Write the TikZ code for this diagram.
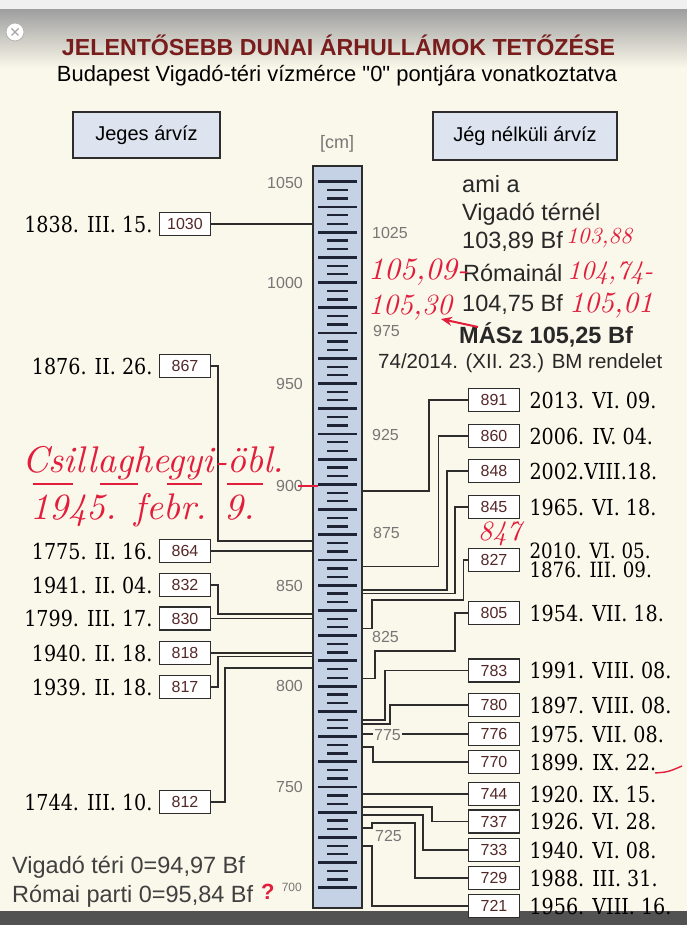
\documentclass[tikz,border=0pt]{standalone}
\usepackage{fontspec}
\newfontfamily\arial{Liberation Sans}
\newfontfamily\datefont[FakeStretch=0.87]{DejaVu Serif}
\usetikzlibrary{arrows.meta}
\definecolor{cream}{RGB}{250,248,234}
\definecolor{linec}{RGB}{45,45,45}
\definecolor{gaugefill}{RGB}{197,210,230}
\definecolor{boxfill}{RGB}{221,228,240}
\definecolor{valc}{RGB}{85,40,40}
\definecolor{titlec}{RGB}{120,28,28}
\definecolor{scalec}{RGB}{118,118,118}
\definecolor{penred}{RGB}{226,30,60}
\definecolor{tickc}{RGB}{30,36,52}
\definecolor{infoc}{RGB}{40,40,40}
\begin{document}
\begin{tikzpicture}[x=1pt,y=-1pt,
  conn/.style={draw=linec,line width=1.6pt},
  valbox/.style={draw=linec,line width=1.6pt,fill=white,minimum width=51pt,minimum height=23pt,inner sep=0pt,text=valc,font=\arial\fontsize{16}{16}\selectfont},
  datel/.style={anchor=east,inner sep=0pt,font=\datefont\fontsize{22}{22}\selectfont},
  dater/.style={anchor=west,inner sep=0pt,font=\datefont\fontsize{22}{17}\selectfont,align=left},
  scalel/.style={anchor=east,inner sep=0pt,text=scalec,font=\arial\fontsize{16}{16}\selectfont},
  scaler/.style={anchor=west,inner sep=0pt,text=scalec,font=\arial\fontsize{16}{16}\selectfont},
  hdr/.style={draw=linec,line width=2pt,fill=boxfill,inner sep=0pt,font=\arial\fontsize{20}{20}\selectfont},
  hand/.style={text=penred,inner sep=0pt,anchor=west,font=\itshape},
  infot/.style={anchor=west,inner sep=0pt,text=infoc,font=\arial\fontsize{23.5}{23.5}\selectfont},
  longtick/.style={draw=tickc,line width=2.8pt},
  shorttick/.style={draw=tickc,line width=2.3pt},
]
\useasboundingbox (0,0) rectangle (687,925);
% background
\fill[gray!12] (0,0) rectangle (687,925);
\fill[cream] (0,10) rectangle (687,911);
\shade[top color=gray!75, bottom color=cream] (0,10) rectangle (687,68);
\fill[black!68] (0,911) rectangle (687,925);
% close icon
\filldraw[fill=white,draw=gray!60,line width=0.8pt] (15,32) circle (9);
\draw[gray!70,line width=1.4pt] (11.5,28.5) -- (18.5,35.5) (18.5,28.5) -- (11.5,35.5);
% titles
\node[inner sep=0pt,text=titlec] (title) at (338.5,45) {\resizebox{553pt}{!}{\arial\bfseries JELENTŐSEBB DUNAI ÁRHULLÁMOK TETŐZÉSE}};
\node[inner sep=0pt] (subtitle) at (337,76) {\resizebox{560pt}{!}{\arial Budapest Vigadó-téri vízmérce "0" pontjára vonatkoztatva}};
\node[hdr,minimum width=147pt,minimum height=46pt] (hjeges) at (146.5,135) {Jeges árvíz};
\node[hdr,minimum width=184pt,minimum height=48pt] (hjeg) at (525,136) {Jég nélküli árvíz};
% gauge
\node[draw=linec,line width=2pt,fill=gaugefill,minimum width=49pt,minimum height=742pt,inner sep=0pt] (gauge) at (337.5,537) {};
\foreach \k in {0,...,28}{
  \pgfmathsetmacro{\yy}{181.7+25.22*\k}
  \draw[longtick] (318,\yy) -- (357,\yy);
}
\foreach \k in {0,...,27}{
  \pgfmathsetmacro{\ya}{181.7+25.22*\k+8.41}
  \pgfmathsetmacro{\yb}{181.7+25.22*\k+16.81}
  \draw[shorttick] (327,\ya) -- (348,\ya) (327,\yb) -- (348,\yb);
}
\node[text=scalec,inner sep=0pt,font=\arial\fontsize{18}{18}\selectfont] (cm) at (337,144) {[cm]};
% scale labels
\node[scalel] (s1050) at (303,183) {1050};
\node[scalel] (s1000) at (303,283) {1000};
\node[scalel] (s950) at (303,384) {950};
\node[scalel] (s900) at (303,486) {900};
\node[scalel] (s850) at (303,586) {850};
\node[scalel] (s800) at (303,686) {800};
\node[scalel] (s750) at (303,787) {750};
\node[scalel,font=\arial\fontsize{12}{12}\selectfont] (s700) at (302,887) {700};
\node[scaler] (s1025) at (372,233) {1025};
\node[scaler] (s975) at (373,331) {975};
\node[scaler] (s925) at (372,435) {925};
\node[scaler] (s875) at (373,533) {875};
\node[scaler] (s825) at (372,637) {825};
\node[scaler] (s725) at (375,836) {725};
% left boxes
\node[valbox] (L1030) at (185,224) {1030};
\node[valbox] (L867) at (185,366) {867};
\node[valbox] (L864) at (185,551) {864};
\node[valbox] (L832) at (185,585) {832};
\node[valbox] (L830) at (185,618.5) {830};
\node[valbox] (L818) at (185,653) {818};
\node[valbox] (L817) at (185,687) {817};
\node[valbox] (L812) at (185,802) {812};
% left connectors
\draw[conn] (L1030) -- (gauge.west |- L1030);
\draw[conn] (L867.east) -| (218,541) -- (gauge.west |- 0,541);
\draw[conn] (L864) -- (gauge.west |- L864);
\draw[conn] (L832.east) -| (218,614) -- (gauge.west |- 0,614);
\draw[conn] (L830) -- (gauge.west |- L830);
\draw[conn] (L818) -- (gauge.west |- L818);
\draw[conn] (L817.east) -| (218,656.5) -- (gauge.west |- 0,656.5);
\draw[conn] (L812.east) -| (225,668) -- (gauge.west |- 0,668);
% left dates
\node[datel] at ([xshift=-6pt]L1030.west) {1838. III. 15.};
\node[datel] at ([xshift=-6pt]L867.west) {1876. II. 26.};
\node[datel] at ([xshift=-6pt]L864.west) {1775. II. 16.};
\node[datel] at ([xshift=-6pt]L832.west) {1941. II. 04.};
\node[datel] at ([xshift=-6pt]L830.west) {1799. III. 17.};
\node[datel] at ([xshift=-6pt]L818.west) {1940. II. 18.};
\node[datel] at ([xshift=-6pt]L817.west) {1939. II. 18.};
\node[datel] at ([xshift=-6pt]L812.west) {1744. III. 10.};
% right boxes
\node[valbox] (R891) at (494,400) {891};
\node[valbox] (R860) at (494,436) {860};
\node[valbox] (R848) at (494,471) {848};
\node[valbox] (R845) at (494,507) {845};
\node[valbox] (R827) at (494,560) {827};
\node[valbox] (R805) at (494,613) {805};
\node[valbox] (R783) at (494,670.5) {783};
\node[valbox] (R780) at (494,705) {780};
\node[valbox] (R776) at (494,734) {776};
\node[valbox] (R770) at (494,762) {770};
\node[valbox] (R744) at (494,794) {744};
\node[valbox] (R737) at (494,821.5) {737};
\node[valbox] (R733) at (494,850) {733};
\node[valbox] (R729) at (494,878) {729};
\node[valbox] (R721) at (494,906) {721};
% right connectors
\draw[conn] (R891.west) -| (429,491) -- (gauge.east |- 0,491);
\draw[conn] (R860.west) -| (438.5,566.5) -- (gauge.east |- 0,566.5);
\draw[conn] (R848.west) -| (447,590) -- (gauge.east |- 0,590);
\draw[conn] (R845.west) -| (455,593.5) -- (gauge.east |- 0,593.5);
\draw[conn] (R827.west) -| (463.5,600) -- (372,600) -- (372,628.5) -- (gauge.east |- 0,628.5);
\draw[conn] (R805.west) -| (455,651) -- (375,651) -- (375,678.5) -- (gauge.east |- 0,678.5);
\draw[conn] (R783.west) -| (385,720) -- (gauge.east |- 0,720);
\draw[conn] (R780.west) -| (390,724) -- (gauge.east |- 0,724);
\draw[conn] (R776) -- (gauge.east |- R776);
\draw[conn] (R770.west) -| (373,747) -- (gauge.east |- 0,747);
\draw[conn] (R744) -- (gauge.east |- R744);
\draw[conn] (R737.west) -| (432,807) -- (gauge.east |- 0,807);
\draw[conn] (R733.west) -| (423,815) -- (gauge.east |- 0,815);
\draw[conn] (R729.west) -| (415,823) -- (372,823) -- (372,828) -- (gauge.east |- 0,828);
\draw[conn] (R721.west) -| (372,846) -- (gauge.east |- 0,846);
\node[scaler,fill=cream,inner xsep=1pt] (s775) at (373,735) {775};
% right dates
\node[dater] at ([xshift=9pt]R891.east) {2013. VI. 09.};
\node[dater] at ([xshift=9pt]R860.east) {2006. IV. 04.};
\node[dater] at ([xshift=9pt]R848.east) {2002.VIII.18.};
\node[dater] at ([xshift=9pt]R845.east) {1965. VI. 18.};
\node[dater,font=\datefont\fontsize{21}{19}\selectfont] at ([xshift=9pt,yshift=-0.5pt]R827.east) {2010. VI. 05.\\1876. III. 09.};
\node[dater] at ([xshift=9pt]R805.east) {1954. VII. 18.};
\node[dater] at ([xshift=9pt]R783.east) {1991. VIII. 08.};
\node[dater] at ([xshift=9pt]R780.east) {1897. VIII. 08.};
\node[dater] at ([xshift=9pt]R776.east) {1975. VII. 08.};
\node[dater] at ([xshift=9pt]R770.east) {1899. IX. 22.};
\node[dater] at ([xshift=9pt]R744.east) {1920. IX. 15.};
\node[dater] at ([xshift=9pt]R737.east) {1926. VI. 28.};
\node[dater] at ([xshift=9pt]R733.east) {1940. VI. 08.};
\node[dater] at ([xshift=9pt]R729.east) {1988. III. 31.};
\node[dater] at ([xshift=9pt]R721.east) {1956. VIII. 16.};
% info block
\node[infot] (i1) at (462,184) {ami a};
\node[infot] (i2) at (462,214) {Vigadó térnél};
\node[infot] (i3) at (462,242) {103,89 Bf};
\node[infot] (i4) at (463,273) {Rómainál};
\node[infot] (i5) at (462,304) {104,75 Bf};
\node[infot,font=\arial\bfseries\fontsize{23.5}{23.5}\selectfont] (i6) at (459,335) {MÁSz 105,25 Bf};
\node[infot,font=\arial\fontsize{20.5}{20.5}\selectfont] (i7) at (378,363) {74/2014. (XII. 23.) BM rendelet};
% bottom-left
\node[infot,text=black!75] (b1) at (12,867) {Vigadó téri 0=94,97 Bf};
\node[infot,text=black!75] (b2) at (12,896) {Római parti 0=95,84 Bf};
% red handwriting
\node[hand] (h1) at (566,238) {\resizebox{66pt}{!}{103,88}};
\node[hand] (h2) at (368,272) {\resizebox{100pt}{!}{105,09-}};
\node[hand] (h3) at (567,273) {\resizebox{86pt}{!}{104,74-}};
\node[hand] (h4) at (368,308) {\resizebox{84pt}{!}{105,30}};
\node[hand] (h5) at (569,306) {\resizebox{84pt}{!}{105,01}};
\coordinate (arrS) at (478,327);
\draw[penred,line width=2pt,-{Stealth[length=11pt,width=9pt]}] (arrS) -- (441,319);
\node[hand] (h6) at (22,463) {\resizebox{262pt}{!}{Csillaghegyi-öbl.}};
\node[hand] (h7) at (30,510) {\resizebox{225pt}{!}{1945. febr. 9.}};
\node[hand] (h8) at (478,533.5) {\resizebox{43pt}{!}{847}};
\node[hand,font=\arial\bfseries\fontsize{22}{22}\selectfont] (h9) at (261,892) {?};
\draw[penred,line width=1.4pt] (33,484) -- (73,484) (100,484) -- (138,484) (167,484) -- (202,484) (227,484) -- (263,484);
\draw[penred,line width=1.4pt] (298,486) -- (318,486);
\draw[penred,line width=1.4pt] (655,773) .. controls (668,772) .. (682,766);
\end{tikzpicture}
\end{document}
